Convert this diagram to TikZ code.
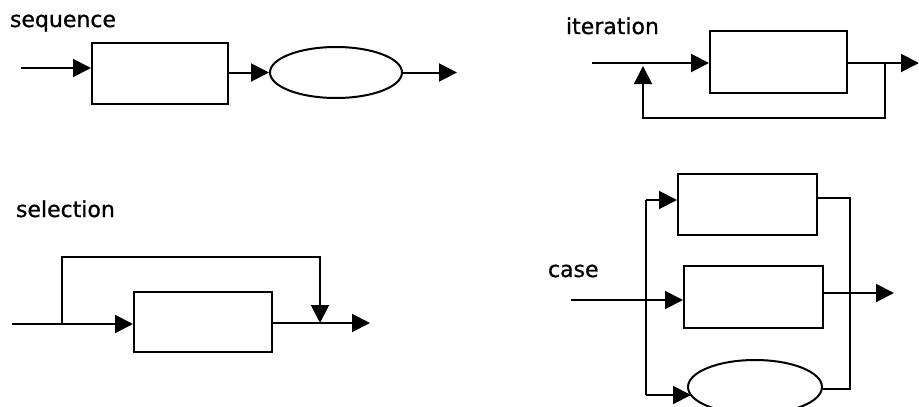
\documentclass[tikz,border=0pt]{standalone}
\usepackage{fontspec}
\setmainfont{DejaVu Sans}
\newfontfamily\lblfont{DejaVu Sans}[BoldFont={DejaVu Sans},BoldFeatures={FakeBold=0.8}]
\usetikzlibrary{arrows.meta,shapes.geometric}
\begin{document}
\begin{tikzpicture}[x=1pt,y=-1pt,
  line width=2pt,
  blk/.style={draw,rectangle,inner sep=0pt,minimum width=#1,minimum height=61pt},
  oval/.style={draw,ellipse,inner sep=0pt},
  arr/.style={-{Triangle[length=18pt,width=18pt]}},
  lbl/.style={anchor=base west,inner sep=0pt,font=\fontsize{22}{26}\lblfont\bfseries\selectfont}]
\useasboundingbox (0,0) rectangle (919,407);
% ---------- sequence ----------
\node[lbl] (tseq) at (9,27) {sequence};
\node[blk=136pt] (sb) at (160,73.5) {};
\node[oval,minimum width=132pt,minimum height=51pt] (se) at (336,72.5) {};
\coordinate (sin) at (21,68);
\coordinate (sout) at (457,72.5);
\draw[arr] (sin) -- (sin -| sb.west);
\draw[arr] (sb.east |- se.west) -- (se.west);
\draw[arr] (se.east) -- (sout);
% ---------- iteration ----------
\node[lbl] (tit) at (565,34) {iteration};
\node[blk=137pt,minimum height=62pt] (ib) at (778.5,62) {};
\coordinate (iin) at (592,63);
\coordinate (iout) at (919,63);
\coordinate (isplit) at (885,63);
\coordinate (ibot) at (643,118);
\coordinate (itip) at (643,66);
\draw[arr] (iin) -- (iin -| ib.west);
\draw[arr] (ib.east |- iout) -- (iout);
\draw[arr] (isplit) |- (ibot) -- (itip);
% ---------- selection ----------
\node[lbl] (tsel) at (15,217) {selection};
\node[blk=138pt,minimum height=60pt] (lb) at (203,322) {};
\coordinate (lin) at (12,324);
\coordinate (lsplit) at (62,324);
\coordinate (ltop) at (320,257);
\coordinate (ljoin) at (320,323);
\coordinate (lout) at (370,323);
\draw[arr] (lin) -- (lin -| lb.west);
\draw[arr] (lsplit) |- (ltop) -- (ljoin);
\draw[arr] (lb.east |- lout) -- (lout);
% ---------- case ----------
\node[lbl] (tcase) at (547,277) {case};
\node[blk=139pt] (ca) at (747.5,204.5) {};
\node[blk=139pt,minimum height=62pt] (cb) at (753.5,297) {};
\node[oval,minimum width=134pt,minimum height=54pt] (cc) at (755,387) {};
\coordinate (cin) at (571,300);
\coordinate (ctop) at (646,200);
\coordinate (cbot) at (646,395);
\coordinate (cbotend) at (691,395);
\coordinate (crtop) at (850,198);
\coordinate (crbot) at (850,389);
\coordinate (cout) at (894,293);
\draw (ctop) -- (cbot);
\draw[arr] (ctop) -- (ctop -| ca.west);
\draw[arr] (cbot) -- (cbotend);
\draw[arr] (cin) -- (cin -| cb.west);
\draw (ca.east |- crtop) -- (crtop) -- (crbot) -- (cc.east |- crbot);
\draw[arr] (cb.east |- cout) -- (cout);
\end{tikzpicture}
\end{document}
